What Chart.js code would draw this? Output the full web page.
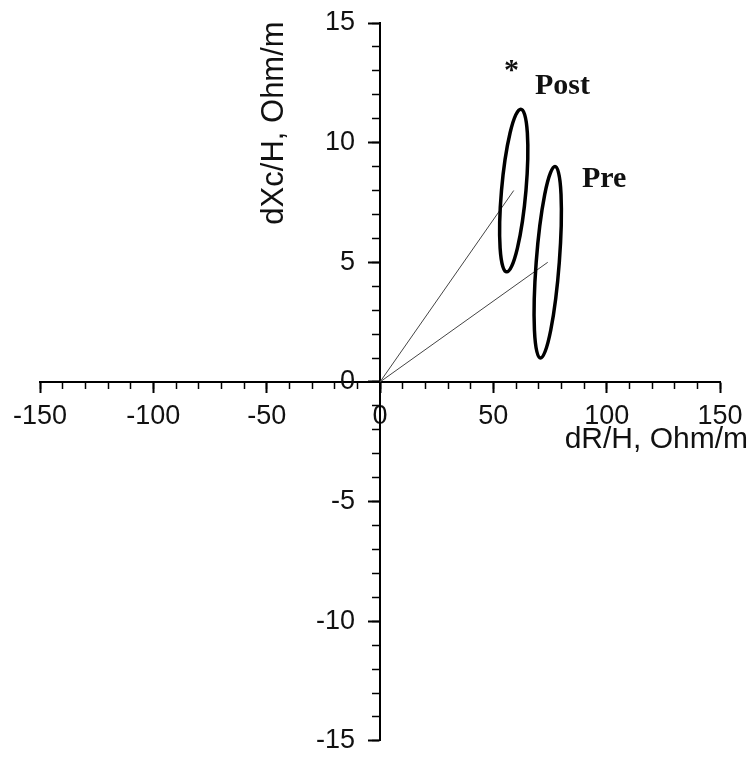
<!DOCTYPE html>
<html lang="en">
<head>
    <meta charset="UTF-8">
    <title>dXc/H vs dR/H</title>
    <style>
        body {
            margin: 0;
            padding: 0;
            background-color: #ffffff;
        }

        #chartBox {
            width: 755px;
            height: 763px;
        }
    </style>
    <script src="https://cdn.jsdelivr.net/npm/chart.js"></script>
</head>
<body>
    <div id="chartBox">
        <canvas id="impedanceChart" width="755" height="763"></canvas>
    </div>

    <script>
        // axis ranges and labelled ticks
        const xMin = -150, xMax = 150;
        const yMin = -15, yMax = 15;
        const xTickLabels = [-150, -100, -50, 0, 50, 100, 150];
        const yTickLabels = [-15, -10, -5, 0, 5, 10, 15];

        // confidence ellipses (Pre, Post): centre, top of the ellipse, horizontal half width
        const groups = ['Pre', 'Post'];
        const centerX = [74, 59];
        const centerY = [5, 8];
        const topX = [77.2, 62.1];
        const topY = [9.0, 11.4];
        const halfWidth = [5.1, 5.4];

        // text labels placed in data units
        const noteText = ['*', 'Post', 'Pre'];
        const noteX = [58, 68.4, 89.1];
        const noteY = [12.65, 12.05, 8.14];

        const tickFont = { family: "'Liberation Sans', Arial, sans-serif", size: 27 };
        const yTickFont = { family: "'Liberation Sans', Arial, sans-serif", size: 27, lineHeight: 0.6 };
        const titleFont = "30px 'Liberation Sans', Arial, sans-serif";
        const yTitleFont = "31px 'Liberation Sans', Arial, sans-serif";
        const noteFont = "bold 30px 'Liberation Serif', 'Times New Roman', serif";

        // vectors from origin to each centre
        const rayDatasets = groups.map((g, i) => ({
            label: g,
            data: [{ x: 0, y: 0 }, { x: centerX[i], y: centerY[i] }],
            showLine: true,
            borderColor: '#444',
            borderWidth: 1,
            pointRadius: 0,
            fill: false
        }));

        const ellipsePlugin = {
            id: 'ellipses',
            afterDatasetsDraw(chart) {
                const xs = chart.scales.x, ys = chart.scales.y;
                const ctx = chart.ctx;
                groups.forEach((g, i) => {
                    const cx = xs.getPixelForValue(centerX[i]);
                    const cy = ys.getPixelForValue(centerY[i]);
                    const ux = xs.getPixelForValue(topX[i]) - cx;
                    const uy = ys.getPixelForValue(topY[i]) - cy;
                    const vx = xs.getPixelForValue(centerX[i] + halfWidth[i]) - cx;
                    ctx.save();
                    ctx.beginPath();
                    ctx.transform(ux, uy, vx, 0, cx, cy);
                    ctx.arc(0, 0, 1, 0, Math.PI * 2);
                    ctx.restore();
                    ctx.save();
                    ctx.lineWidth = 3.5;
                    ctx.strokeStyle = '#000';
                    ctx.stroke();
                    ctx.restore();
                });
            }
        };

        const textPlugin = {
            id: 'texts',
            afterDraw(chart) {
                const xs = chart.scales.x, ys = chart.scales.y;
                const ctx = chart.ctx;
                const x0 = xs.getPixelForValue(0);
                const y0 = ys.getPixelForValue(0);
                ctx.save();
                ctx.fillStyle = '#111';

                // notes
                ctx.font = noteFont;
                ctx.textBaseline = 'alphabetic';
                noteText.forEach((t, i) => {
                    ctx.textAlign = t === '*' ? 'center' : 'left';
                    ctx.fillText(t, xs.getPixelForValue(noteX[i]), ys.getPixelForValue(noteY[i]));
                });

                // x axis title, below the tick labels at the right end
                ctx.font = titleFont;
                ctx.textAlign = 'right';
                ctx.fillText('dR/H, Ohm/m', xs.right + 28, y0 + 66);

                // y axis title, rotated, left of the tick labels
                ctx.font = yTitleFont;
                ctx.translate(x0 - 97, ys.top + 100);
                ctx.rotate(-Math.PI / 2);
                ctx.textAlign = 'center';
                ctx.fillText('dXc/H, Ohm/m', 0, 0);
                ctx.restore();
            }
        };

        const ctx = document.getElementById('impedanceChart').getContext('2d');
        const impedanceChart = new Chart(ctx, {
            type: 'scatter',
            data: { datasets: rayDatasets },
            options: {
                responsive: false,
                animation: false,
                layout: { padding: { left: 40, right: 35, top: 23, bottom: 20 } },
                plugins: {
                    legend: { display: false },
                    tooltip: { enabled: false }
                },
                scales: {
                    x: {
                        type: 'linear',
                        min: xMin,
                        max: xMax,
                        position: 'center',
                        afterBuildTicks: s => { s.ticks = xTickLabels.map(v => ({ value: v })); },
                        ticks: { font: tickFont, color: '#111', padding: 8, autoSkip: false, maxRotation: 0 },
                        grid: { drawOnChartArea: false, tickLength: 10, tickWidth: 2, tickColor: '#000' },
                        border: { color: '#000', width: 2 }
                    },
                    xMinor: {
                        type: 'linear',
                        axis: 'x',
                        min: xMin,
                        max: xMax,
                        position: 'center',
                        ticks: { display: false, stepSize: 10 },
                        grid: { drawOnChartArea: false, tickLength: 7, tickWidth: 1.5, tickColor: '#000' },
                        border: { display: false }
                    },
                    y: {
                        type: 'linear',
                        min: yMin,
                        max: yMax,
                        position: 'center',
                        afterBuildTicks: s => { s.ticks = yTickLabels.map(v => ({ value: v })); },
                        ticks: { font: yTickFont, color: '#111', padding: 14, autoSkip: false },
                        grid: { drawOnChartArea: false, tickLength: 11, tickWidth: 2, tickColor: '#000' },
                        border: { color: '#000', width: 2 }
                    },
                    yMinor: {
                        type: 'linear',
                        axis: 'y',
                        min: yMin,
                        max: yMax,
                        position: 'center',
                        ticks: { display: false, stepSize: 1 },
                        grid: { drawOnChartArea: false, tickLength: 8, tickWidth: 1.5, tickColor: '#000' },
                        border: { display: false }
                    }
                }
            },
            plugins: [ellipsePlugin, textPlugin]
        });
    </script>
</body>
</html>
